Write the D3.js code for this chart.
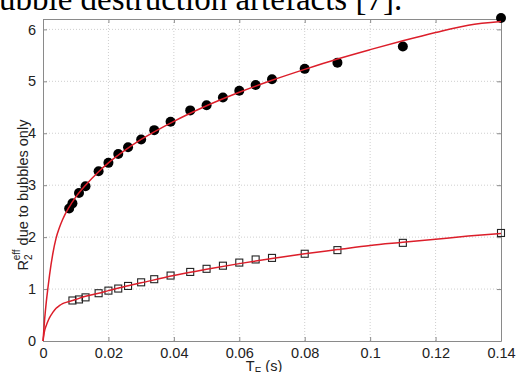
<!DOCTYPE html>
<html>
<head>
<meta charset="utf-8">
<script src="https://cdn.jsdelivr.net/npm/d3@7"></script>
<style>
  html, body { margin: 0; padding: 0; background: #fff; overflow: hidden; }
  svg { display: block; }
</style>
</head>
<body>
<div id="chart"></div>
<script>
// measured points (T_E in s)
const teCircles = [0.008, 0.009, 0.011, 0.013, 0.017, 0.020, 0.023, 0.026, 0.030, 0.034, 0.039,
  0.045, 0.050, 0.055, 0.060, 0.065, 0.070, 0.080, 0.090, 0.110, 0.140];
const r2Circles = [2.55, 2.65, 2.85, 2.98, 3.27, 3.43, 3.60, 3.73, 3.88, 4.06, 4.22,
  4.44, 4.54, 4.69, 4.82, 4.93, 5.04, 5.24, 5.36, 5.67, 6.22];

const teSquares = [0.009, 0.011, 0.013, 0.017, 0.020, 0.023, 0.026, 0.030, 0.034, 0.039,
  0.045, 0.050, 0.055, 0.060, 0.065, 0.070, 0.080, 0.090, 0.110, 0.140];
const r2Squares = [0.78, 0.80, 0.84, 0.92, 0.97, 1.01, 1.06, 1.13, 1.19, 1.26,
  1.33, 1.39, 1.45, 1.51, 1.57, 1.60, 1.68, 1.75, 1.89, 2.08];

// fitted curves
const teFit = [0, 0.0005, 0.001, 0.0015, 0.002, 0.003, 0.004, 0.005, 0.006, 0.008, 0.010, 0.013,
  0.017, 0.020, 0.025, 0.030, 0.040, 0.050, 0.060, 0.070, 0.080, 0.090, 0.100, 0.110, 0.120, 0.130, 0.140];
const fitUpper = [0, 0.42, 0.75, 1.02, 1.27, 1.68, 1.98, 2.18, 2.34, 2.58, 2.77, 3.00,
  3.26, 3.43, 3.67, 3.88, 4.23, 4.53, 4.79, 5.02, 5.23, 5.43, 5.61, 5.78, 5.94, 6.08, 6.15];
const fitLower = [0, 0.20, 0.30, 0.38, 0.45, 0.55, 0.63, 0.68, 0.72, 0.76, 0.80, 0.86,
  0.92, 0.97, 1.05, 1.12, 1.26, 1.38, 1.49, 1.59, 1.68, 1.76, 1.84, 1.90, 1.96, 2.02, 2.07];

const xTicks = [0, 0.02, 0.04, 0.06, 0.08, 0.1, 0.12, 0.14];
const yTicks = [0, 1, 2, 3, 4, 5, 6];

const W = 516, H = 372;
const margin = { top: 19, right: 15, bottom: 31, left: 43 };
const width = W - margin.left - margin.right;
const height = H - margin.top - margin.bottom;

const svg = d3.select('#chart').append('svg')
  .attr('width', W)
  .attr('height', H);

// cut-off line of the paper text above the figure
svg.append('text')
  .attr('x', -1)
  .attr('y', 10)
  .attr('font-family', '"Liberation Serif", "Times New Roman", serif')
  .attr('font-size', 33)
  .attr('fill', '#000')
  .text('ubble destruction artefacts [7].');

const g = svg.append('g')
  .attr('transform', `translate(${margin.left},${margin.top})`);

const x = d3.scaleLinear().domain([0, 0.14]).range([0, width]);
const y = d3.scaleLinear().domain([0, 6.2]).range([height, 0]);

// grid
g.append('g')
  .selectAll('line')
  .data(xTicks.slice(1, -1))
  .join('line')
  .attr('x1', d => x(d)).attr('x2', d => x(d))
  .attr('y1', 0).attr('y2', height)
  .attr('stroke', '#cfcfcf')
  .attr('stroke-dasharray', '1,2');

g.append('g')
  .selectAll('line')
  .data(yTicks.slice(1))
  .join('line')
  .attr('x1', 0).attr('x2', width)
  .attr('y1', d => y(d)).attr('y2', d => y(d))
  .attr('stroke', '#cfcfcf')
  .attr('stroke-dasharray', '1,2');

// axes (inward ticks like matlab)
const axisColor = '#8a8a8a';
const styleAxis = sel => {
  sel.select('.domain').attr('stroke', axisColor);
  sel.selectAll('.tick line').attr('stroke', axisColor);
  sel.selectAll('.tick text')
    .attr('fill', '#222')
    .attr('font-family', 'Arial, "Liberation Sans", sans-serif')
    .attr('font-size', 14.5);
};

g.append('g')
  .attr('transform', `translate(0,${height})`)
  .call(d3.axisBottom(x).tickValues(xTicks).tickFormat(d3.format('~g'))
    .tickSizeInner(-4).tickSizeOuter(0).tickPadding(7))
  .call(styleAxis)
  .call(a => a.selectAll('.tick text').attr('dy', '0.71em'));

g.append('g')
  .call(d3.axisTop(x).tickValues(xTicks).tickFormat('')
    .tickSizeInner(-4).tickSizeOuter(0))
  .call(styleAxis);

g.append('g')
  .call(d3.axisLeft(y).tickValues(yTicks).tickFormat(d3.format('d'))
    .tickSizeInner(-4).tickSizeOuter(0).tickPadding(7))
  .call(styleAxis);

g.append('g')
  .attr('transform', `translate(${width},0)`)
  .call(d3.axisRight(y).tickValues(yTicks).tickFormat('')
    .tickSizeInner(-4).tickSizeOuter(0))
  .call(styleAxis);

// markers
const circles = teCircles.map((t, i) => ({ t, v: r2Circles[i] }));
const squares = teSquares.map((t, i) => ({ t, v: r2Squares[i] }));

g.append('g')
  .selectAll('circle')
  .data(circles)
  .join('circle')
  .attr('cx', d => x(d.t))
  .attr('cy', d => y(d.v))
  .attr('r', 5)
  .attr('fill', '#000');

const sq = 7;
g.append('g')
  .selectAll('rect')
  .data(squares)
  .join('rect')
  .attr('x', d => x(d.t) - sq / 2)
  .attr('y', d => y(d.v) - sq / 2)
  .attr('width', sq)
  .attr('height', sq)
  .attr('fill', 'none')
  .attr('stroke', '#222')
  .attr('stroke-width', 1.1);

// fit lines
const line = d3.line()
  .x(d => x(d[0]))
  .y(d => y(d[1]))
  .curve(d3.curveMonotoneX);

[fitUpper, fitLower].forEach(vals => {
  g.append('path')
    .datum(teFit.map((t, i) => [t, vals[i]]))
    .attr('fill', 'none')
    .attr('stroke', '#dc1e2a')
    .attr('stroke-width', 1.5)
    .attr('d', line);
});

// axis labels
svg.append('text')
  .attr('x', margin.left + x(0.07) - 8)
  .attr('y', 371)
  .attr('text-anchor', 'middle')
  .attr('font-family', 'Arial, "Liberation Sans", sans-serif')
  .attr('font-size', 14.5)
  .attr('fill', '#222')
  .call(t => {
    t.append('tspan').text('T');
    t.append('tspan').attr('font-size', 10).attr('dy', 4).text('E');
    t.append('tspan').attr('dy', -4).text(' (s)');
  });

svg.append('text')
  .attr('transform', 'translate(28,195) rotate(-90)')
  .attr('text-anchor', 'middle')
  .attr('font-family', 'Arial, "Liberation Sans", sans-serif')
  .attr('font-size', 14.5)
  .attr('fill', '#222')
  .call(t => {
    t.append('tspan').text('R');
    t.append('tspan').attr('font-size', 10).attr('dy', 4).text('2');
    t.append('tspan').attr('font-size', 10).attr('dx', -6).attr('dy', -12).text('eff');
    t.append('tspan').attr('dy', 8).text(' due to bubbles only');
  });
</script>
</body>
</html>
